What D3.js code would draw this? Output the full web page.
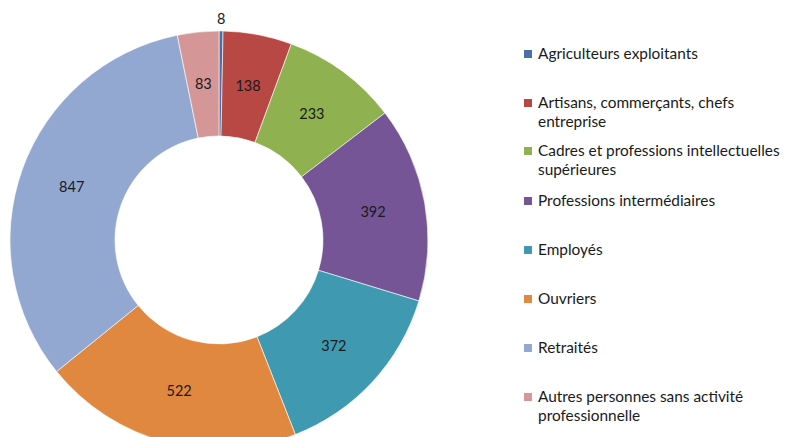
<!DOCTYPE html>
<html lang="fr">
  <head>
    <meta charset="utf-8">
    <script src="https://cdnjs.cloudflare.com/ajax/libs/d3/7.8.5/d3.min.js"></script>
    <style>
      body { margin: 0; background: #fff; }
      text { font-family: Lato, "Open Sans", sans-serif; fill: #1a1a1a; }
      .labels text { font-size: 14.5px; }
      .legend text { font-size: 15.4px; }
      .slices path { stroke: #fff; stroke-width: 0.6; }
    </style>
  </head>
  <body>
  <script>
  var width = 785,
      height = 437;

  // categories and values
  var categories = [
    'Agriculteurs exploitants',
    'Artisans, commerçants, chefs entreprise',
    'Cadres et professions intellectuelles supérieures',
    'Professions intermédiaires',
    'Employés',
    'Ouvriers',
    'Retraités',
    'Autres personnes sans activité professionnelle'
  ];
  var values = [8, 138, 233, 392, 372, 522, 847, 83];

  // legend text, wrapped as in the original
  var legendLines = [
    ['Agriculteurs exploitants'],
    ['Artisans, commerçants, chefs', 'entreprise'],
    ['Cadres et professions intellectuelles', 'supérieures'],
    ['Professions intermédiaires'],
    ['Employés'],
    ['Ouvriers'],
    ['Retraités'],
    ['Autres personnes sans activité', 'professionnelle']
  ];
  var colors = ['#4a6fa8', '#b84844', '#8fb150', '#755596', '#3f9ab1', '#e0883f', '#93a8d1', '#d49697'];

  var cx = 219, cy = 240,
      outer = 209, inner = 104;

  var svg = d3.select('body')
    .append('svg')
    .attr('width', width)
    .attr('height', height);

  var color = d3.scaleOrdinal()
    .domain(categories)
    .range(colors);

  var pie = d3.pie()
    .sort(null)
    .value(function (d, i) { return values[i]; });

  var arc = d3.arc()
    .innerRadius(inner)
    .outerRadius(outer);

  var outside = d3.arc()
    .innerRadius(outer + 12)
    .outerRadius(outer + 12);

  var arcs = pie(categories);

  var g = svg.append('g')
    .attr('transform', 'translate(' + cx + ',' + cy + ')');

  g.append('g').attr('class', 'slices')
    .selectAll('path')
    .data(arcs)
    .enter().append('path')
      .attr('d', arc)
      .attr('fill', function (d) { return color(d.data); });

  // small slices get their label outside the ring
  g.append('g').attr('class', 'labels')
    .selectAll('text')
    .data(arcs)
    .enter().append('text')
      .attr('transform', function (d) {
        var small = (d.endAngle - d.startAngle) < 0.05;
        return 'translate(' + (small ? outside : arc).centroid(d) + ')';
      })
      .attr('text-anchor', 'middle')
      .attr('dy', '0.35em')
      .text(function (d) { return d.value; });

  // legend
  var rowY = [54, 103, 151, 201, 250, 299, 348, 397];
  var lineH = 19;

  var legend = svg.append('g')
    .attr('class', 'legend')
    .selectAll('g')
    .data(categories)
    .enter().append('g')
      .attr('transform', function (d, i) { return 'translate(524,' + rowY[i] + ')'; });

  legend.append('rect')
    .attr('x', 0)
    .attr('y', -4)
    .attr('width', 8)
    .attr('height', 8)
    .attr('fill', function (d) { return color(d); });

  legend.append('text')
    .selectAll('tspan')
    .data(function (d, i) { return legendLines[i]; })
    .enter().append('tspan')
      .attr('x', 14)
      .attr('y', function (d, j) { return j * lineH; })
      .attr('dy', '0.35em')
      .text(function (d) { return d; });
  </script>
  </body>
</html>
